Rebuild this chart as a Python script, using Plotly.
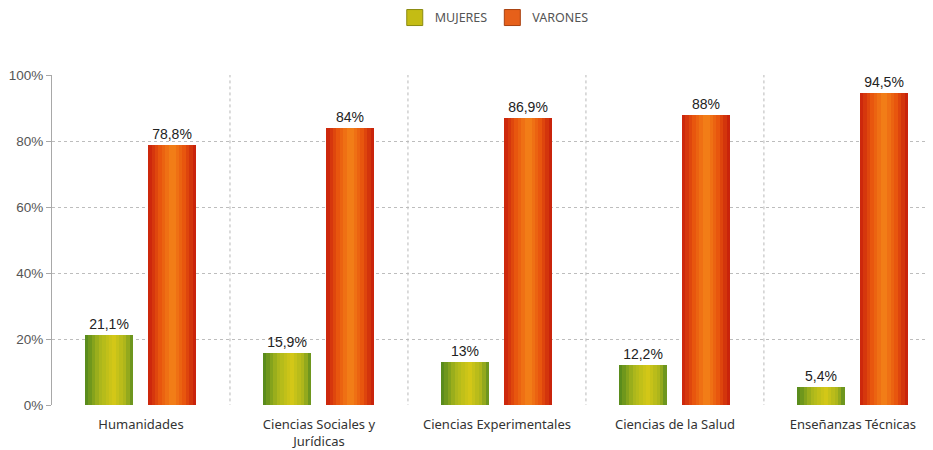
import plotly.graph_objects as go

categories = ["Humanidades", "Ciencias Sociales y<br>Jurídicas", "Ciencias Experimentales",
              "Ciencias de la Salud", "Enseñanzas Técnicas"]
mujeres = [21.1, 15.9, 13.0, 12.2, 5.4]
varones = [78.8, 84.0, 86.9, 88.0, 94.5]
mujeres_labels = ["21,1%", "15,9%", "13%", "12,2%", "5,4%"]
varones_labels = ["78,8%", "84%", "86,9%", "88%", "94,5%"]
y_ticks = [0, 20, 40, 60, 80, 100]
y_tick_labels = ["0%", "20%", "40%", "60%", "80%", "100%"]

x = list(range(len(categories)))
W = 0.27

def hex2rgb(h):
    h = h.lstrip("#")
    return [int(h[i:i+2], 16) for i in (0, 2, 4)]

def interp(stops, t):
    for i in range(len(stops) - 1):
        t0, c0 = stops[i]
        t1, c1 = stops[i + 1]
        if t0 <= t <= t1:
            f = (t - t0) / (t1 - t0) if t1 > t0 else 0
            a, b = hex2rgb(c0), hex2rgb(c1)
            return "rgb(%d,%d,%d)" % tuple(round(a[k] + (b[k] - a[k]) * f) for k in range(3))
    return stops[-1][1]

green_stops = [(0, "#4f861c"), (0.3, "#a9b61c"), (0.6, "#d4c817"), (0.85, "#a9b41c"), (1, "#5c8c1e")]
orange_stops = [(0, "#c8200c"), (0.25, "#e8560e"), (0.5, "#f48418"), (0.75, "#e8560e"), (1, "#c41c0a")]

fig = go.Figure()

def add_series(name, vals, labels, base_offset, solid, edge, stops):
    fig.add_trace(go.Bar(
        x=x, y=vals, name=name, width=W, offset=base_offset,
        marker=dict(color=solid, line=dict(width=0)),
        text=labels, textposition="outside", cliponaxis=False,
        textfont=dict(family="Liberation Sans, Arial", size=14, color="#222"),
        hoverinfo="skip", showlegend=False,
    ))
    n = 14
    for i in range(n):
        t = (i + 0.5) / n
        fig.add_trace(go.Bar(
            x=x, y=vals, width=W / n * 1.06, offset=base_offset + W * i / n,
            marker=dict(color=interp(stops, t), line=dict(width=0)),
            showlegend=False, hoverinfo="skip",
        ))
    # legend entry
    fig.add_trace(go.Scatter(
        x=[None], y=[None], mode="markers", name=name,
        marker=dict(symbol="square", size=18, color=solid, line=dict(color=edge, width=1)),
        hoverinfo="skip",
    ))

add_series("MUJERES", mujeres, mujeres_labels, -0.315, "#c4bc14", "#8a8a10", green_stops)
add_series("VARONES", varones, varones_labels, 0.04, "#e6601a", "#a84010", orange_stops)

shapes = []
for b in [0.5, 1.5, 2.5, 3.5]:
    shapes.append(dict(type="line", xref="x", yref="y", x0=b, x1=b, y0=-8, y1=100,
                       line=dict(color="#b8b8b8", width=1, dash="dot"), layer="below"))

fig.update_layout(
    width=925, height=442,
    margin=dict(l=44, r=0, t=67, b=45, autoexpand=False),
    paper_bgcolor="white", plot_bgcolor="white",
    barmode="overlay", bargap=0,
    shapes=shapes,
    showlegend=True,
    legend=dict(orientation="h", x=0.502, xanchor="center", y=1.173, yanchor="middle",
                font=dict(family="Noto Sans, Open Sans", size=12.5, color="#555"),
                traceorder="normal", itemwidth=30, bgcolor="rgba(0,0,0,0)"),
    xaxis=dict(range=[-0.5, 4.45], tickmode="array", tickvals=x, ticktext=categories,
               showgrid=False, zeroline=False, showline=False, automargin=False,
               tickfont=dict(family="Noto Sans, Open Sans", size=13, color="#333"),
               ticks="", ticklabelstandoff=10, fixedrange=True),
    yaxis=dict(range=[0, 100], tickmode="array", tickvals=y_ticks, ticktext=y_tick_labels,
               showgrid=True, gridcolor="#bdbdbd", griddash="dot", gridwidth=1,
               zeroline=False, showline=True, linecolor="#a8a8a8", linewidth=1,
               ticks="outside", ticklen=5, tickcolor="#a8a8a8", automargin=False,
               tickfont=dict(family="Liberation Sans, Arial", size=13.5, color="#555")),
)
fig.write_html("out.html")
